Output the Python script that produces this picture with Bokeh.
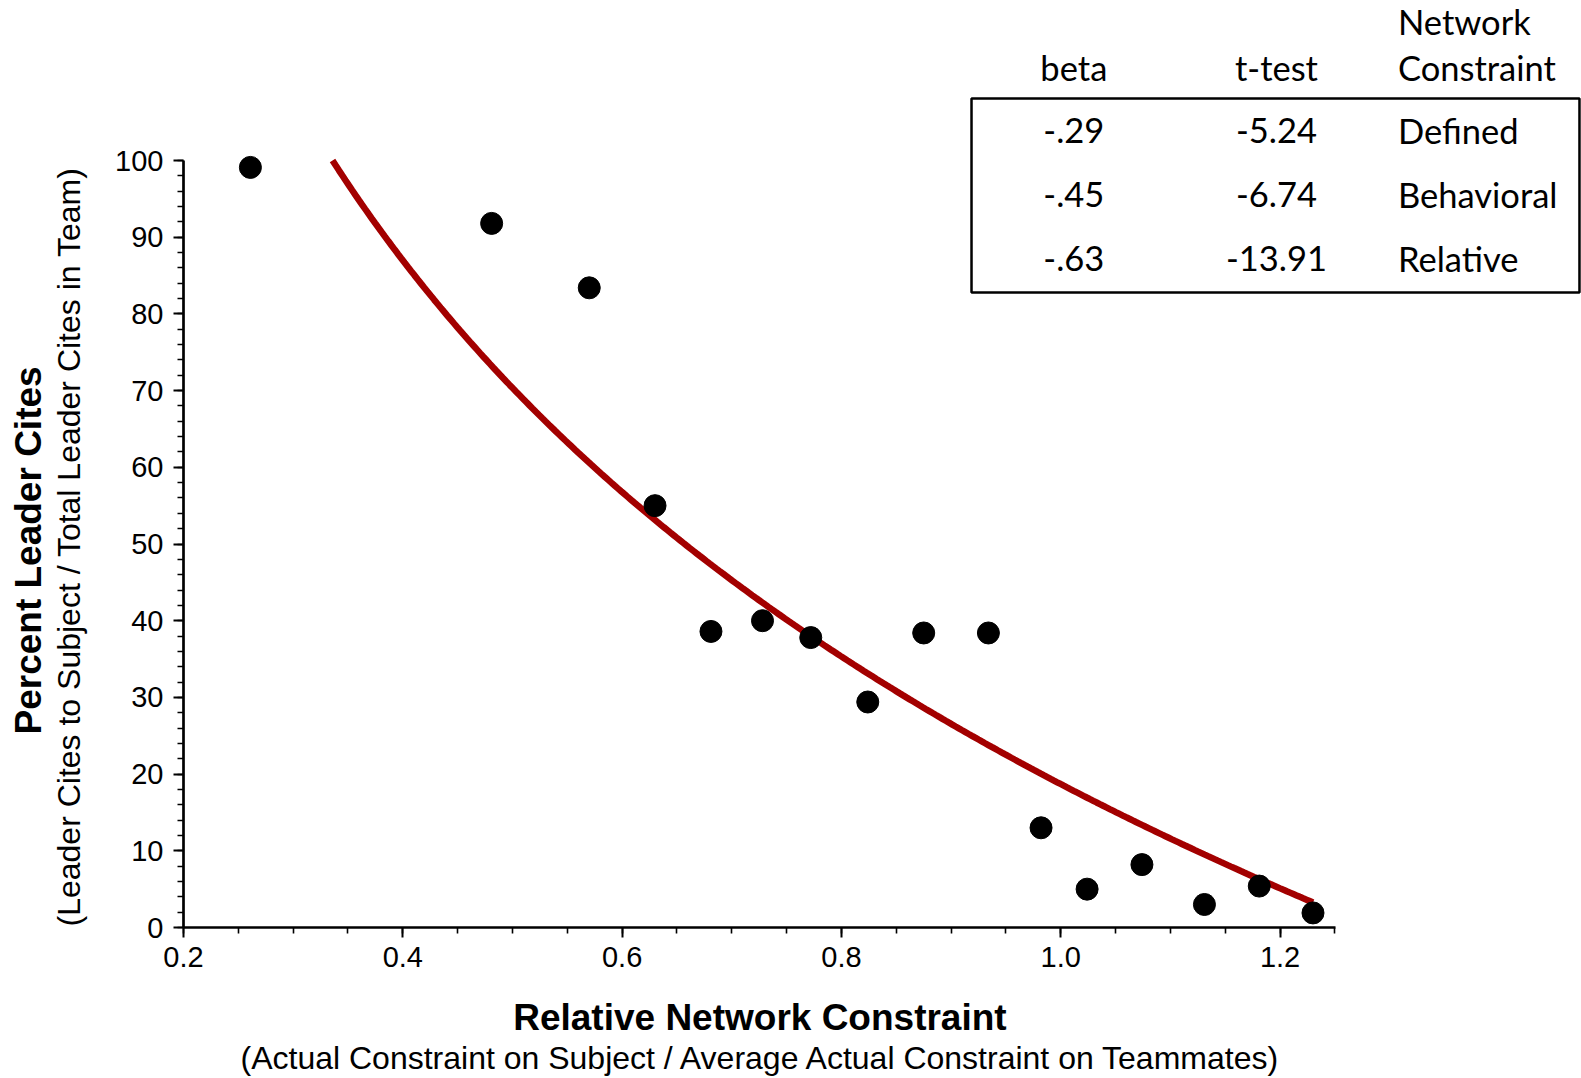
import numpy as np
from bokeh.plotting import figure
from bokeh.models import (Range1d, SingleIntervalTicker, NumeralTickFormatter,
                          BoxAnnotation, ColumnDataSource, Title)
from bokeh.core.properties import value
from bokeh.embed import file_html
from bokeh.resources import INLINE

# Relative network constraint vs. percent of leader cites (one dot per subject group)
rel_constraint = [0.261, 0.481, 0.570, 0.630, 0.681, 0.728, 0.772, 0.824,
                  0.875, 0.934, 0.982, 1.024, 1.074, 1.131, 1.181, 1.230]
pct_leader_cites = [99.1, 91.8, 83.4, 55.0, 38.6, 40.0, 37.8, 29.4,
                    38.4, 38.4, 13.0, 5.0, 8.2, 3.0, 5.4, 1.9]

# Regression summary table
table_beta = ["-.29", "-.45", "-.63"]
table_t = ["-5.24", "-6.74", "-13.91"]
table_kind = ["Defined", "Behavioral", "Relative"]

AXIS_FONT = "Liberation Sans"
TABLE_FONT = "Lato"

W, H = 1581, 1078
LEFT, BOTTOM = 183, 151
PX_PER_X = 1096.6      # pixels per unit of relative constraint
PX_PER_Y = 7.67        # pixels per percentage point

x_end = 0.2 + (W - LEFT) / PX_PER_X
y_end = (H - BOTTOM) / PX_PER_Y

p = figure(width=W, height=H, output_backend="svg", toolbar_location=None,
           x_range=Range1d(0.2, x_end), y_range=Range1d(0, y_end),
           min_border_left=LEFT, min_border_right=0, min_border_top=0,
           min_border_bottom=BOTTOM)
p.outline_line_color = None
p.grid.visible = False
p.background_fill_color = "white"
p.border_fill_color = "white"

# axes
p.xaxis.ticker = SingleIntervalTicker(interval=0.2, num_minor_ticks=4)
p.xaxis.formatter = NumeralTickFormatter(format="0.0")
p.xaxis.bounds = (0.2, 1.2501)
p.yaxis.ticker = SingleIntervalTicker(interval=10, num_minor_ticks=5)
p.yaxis.bounds = (0, 100)
for ax in (p.xaxis, p.yaxis):
    ax.axis_line_width = 2.7
    ax.axis_line_color = "black"
    ax.major_tick_line_width = 2
    ax.minor_tick_line_width = 1.6
    ax.major_tick_line_color = "black"
    ax.minor_tick_line_color = "black"
    ax.major_tick_out = 10
    ax.major_tick_in = 0
    ax.minor_tick_out = 6
    ax.minor_tick_in = 0
    ax.major_label_text_font = AXIS_FONT
    ax.major_label_text_font_size = "29px"
    ax.major_label_text_color = "black"
    # a blank label only reserves a gap between tick labels and the titles
    ax.axis_label = " "
    ax.axis_label_text_font_size = "1px"
p.xaxis.major_label_standoff = 9
p.yaxis.major_label_standoff = 10
p.xaxis.axis_label_standoff = 23
p.yaxis.axis_label_standoff = 21

SUB_SIZE = "32px"

# x titles: bold name, explanation beneath
p.add_layout(Title(text="Relative Network Constraint",
                   text_font=AXIS_FONT, text_font_size="37px",
                   text_font_style="bold", text_color="black",
                   align="left", offset=329.7, vertical_align="top",
                   standoff=0), "below")
p.add_layout(Title(text="(Actual Constraint on Subject / Average Actual Constraint on Teammates)",
                   text_font=AXIS_FONT, text_font_size=SUB_SIZE,
                   text_font_style="normal", text_color="black",
                   align="left", offset=57, vertical_align="top",
                   standoff=0), "below")

# y titles: explanation next to the axis, bold name further out
p.add_layout(Title(text="(Leader Cites to Subject / Total Leader Cites in Team)",
                   text_font=AXIS_FONT, text_font_size=SUB_SIZE,
                   text_font_style="normal", text_color="black",
                   align="left", offset=1, vertical_align="bottom",
                   standoff=0), "left")
p.add_layout(Title(text="Percent Leader Cites",
                   text_font=AXIS_FONT, text_font_size="37px",
                   text_font_style="bold", text_color="black",
                   align="left", offset=193, vertical_align="bottom",
                   standoff=0), "left")

# fitted log trend: y = a + b*ln(x)
b, a = np.polyfit(np.log(rel_constraint), pct_leader_cites, 1)
x_start = np.exp((100 - a) / b)
xs = np.linspace(x_start, max(rel_constraint), 300)
p.line(xs, a + b * np.log(xs), line_color="#a30000", line_width=6.5)

p.scatter(rel_constraint, pct_leader_cites, size=22, fill_color="black",
          line_color="black")

# summary table
COL1, COL2, COL3 = 1.0119, 1.1967, 1.3075
HDR_Y, NET_Y = 112.16, 118.16
ROW0, ROW_STEP = 103.86, 8.3
p.add_layout(BoxAnnotation(left=0.9186, right=1.473, top=108.08, bottom=82.79,
                           fill_alpha=0, line_color="black", line_alpha=1,
                           line_width=2.5))

TFONT_SIZE = "34.5px"
hdr = ColumnDataSource(dict(x=[COL1, COL2, COL3, COL3],
                            y=[HDR_Y, HDR_Y, NET_Y, HDR_Y],
                            t=["beta", "t-test", "Network", "Constraint"],
                            align=["center", "center", "left", "left"]))
p.text(x="x", y="y", text="t", text_align="align", source=hdr,
       text_font=value(TABLE_FONT), text_font_size=value(TFONT_SIZE),
       text_baseline="alphabetic", text_color="black")

rows_y = [ROW0 - ROW_STEP * i for i in range(len(table_beta))]
body = ColumnDataSource(dict(
    x=[COL1] * 3 + [COL2] * 3 + [COL3] * 3,
    y=rows_y * 3,
    t=table_beta + table_t + table_kind,
    align=["center"] * 6 + ["left"] * 3))
p.text(x="x", y="y", text="t", text_align="align", source=body,
       text_font=value(TABLE_FONT), text_font_size=value(TFONT_SIZE),
       text_baseline="alphabetic", text_color="black")

open("out.html", "w").write(file_html(p, INLINE))
